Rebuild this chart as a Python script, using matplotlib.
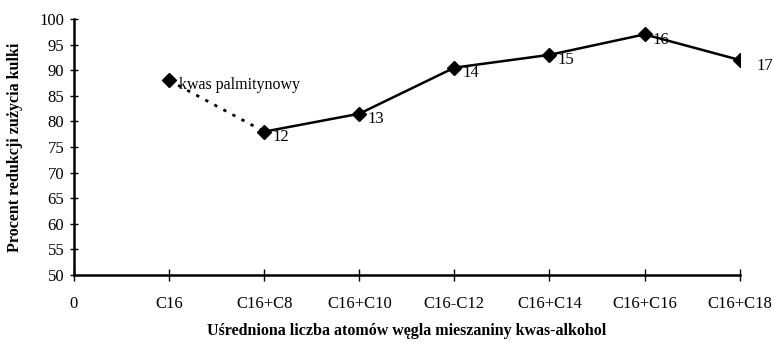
import matplotlib.pyplot as plt

# values
categories = ["0", "C16", "C16+C8", "C16+C10", "C16-C12", "C16+C14", "C16+C16", "C16+C18"]
acid_value = 88.0
mix_values = [78.0, 81.5, 90.5, 93.0, 97.0, 92.0]
mix_labels = ["12", "13", "14", "15", "16", "17"]
acid_label = "kwas palmitynowy"

plt.rcParams["font.family"] = ["Liberation Serif", "DejaVu Serif"]

fig = plt.figure(figsize=(7.74, 3.59), dpi=100)
ax = fig.add_axes([0.0956, 0.234, 0.86, 0.713])

x_acid = 1
x_mix = list(range(2, 2 + len(mix_values)))

ax.plot([x_acid, x_mix[0]], [acid_value, mix_values[0]], color="black",
        linestyle=(0, (1.2, 2.5)), linewidth=2)
ax.plot(x_mix, mix_values, color="black", linewidth=1.8)
ax.plot([x_acid] + x_mix, [acid_value] + mix_values, linestyle="",
        marker="D", markersize=7, color="black")

ax.annotate(acid_label, (x_acid, acid_value), xytext=(7, -3),
            textcoords="offset points", fontsize=11.5, va="center")
for x, y, lab in zip(x_mix, mix_values, mix_labels):
    dx = 12 if lab == "17" else 6
    ax.annotate(lab, (x, y), xytext=(dx, -4), textcoords="offset points",
                fontsize=12, va="center")

ax.set_xlim(0, 7)
ax.set_ylim(50, 100)
ax.set_xticks(range(len(categories)))
ax.set_xticklabels(categories, fontsize=12)
ax.set_yticks(range(50, 101, 5))
ax.tick_params(axis="y", labelsize=12, direction="inout", length=6, width=1, pad=4)
ax.tick_params(axis="x", direction="inout", length=8, width=1, pad=11)

for s in ["top", "right"]:
    ax.spines[s].set_visible(False)
for s in ["left", "bottom"]:
    ax.spines[s].set_linewidth(1.8)

ax.set_ylabel("Procent redukcji zużycia kulki", fontsize=11.5, fontweight="bold",
              labelpad=12)
ax.set_xlabel("Uśredniona liczba atomów węgla mieszaniny kwas-alkohol",
              fontsize=11.5, fontweight="bold", labelpad=8)

fig.savefig("out.png", dpi=100)
